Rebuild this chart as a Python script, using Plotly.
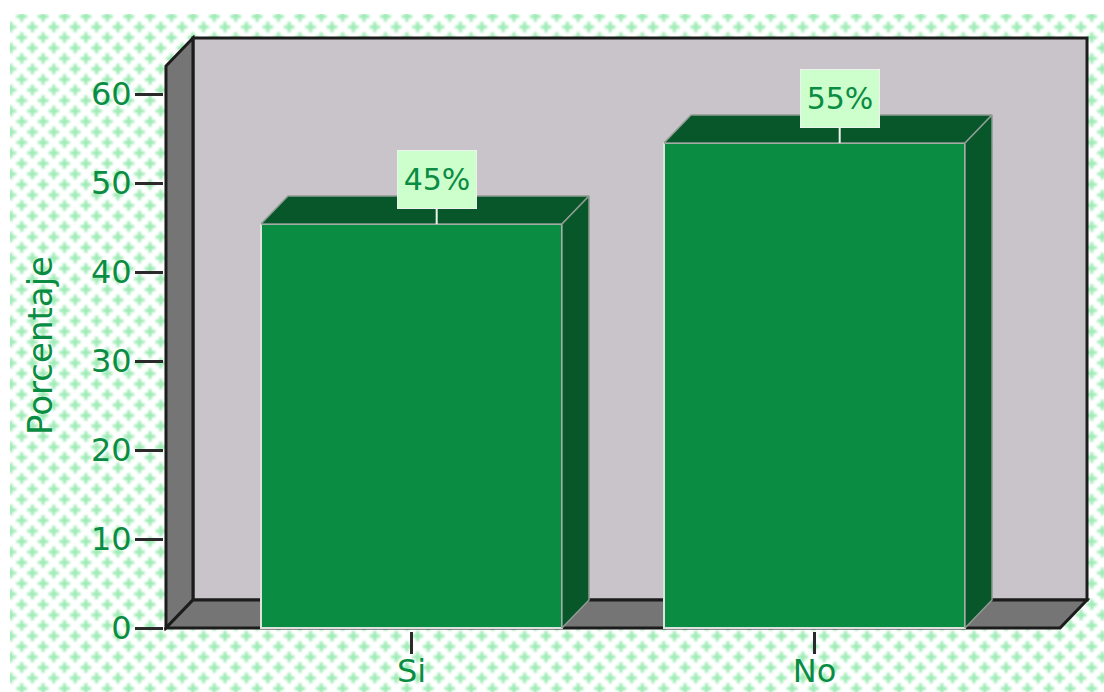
import base64
import plotly.graph_objects as go

# ---- data ----
categories = ["Si", "No"]
percent_values = [45.4, 54.5]
value_labels = ["45%", "55%"]
y_ticks = [0, 10, 20, 30, 40, 50, 60]
y_title = "Porcentaje"

# ---- style ----
GREEN = "#0a8c42"
DARK = "#08572a"
WALL = "#c9c3ca"
SIDE = "#757575"
LINE = "#1c1c1c"
LABEL_BG = "#ccffcc"
FONT = "DejaVu Sans"

W, H = 1104, 692
L, R, T, B = 164, 1090, 35, 631          # plot area in page pixels
X_RANGE = (-0.6141, 1.6836)
Y_RANGE = (-0.337, 66.63)
# the frame of the 3-D box, in axis units
FRAME_L, FRAME_R = -0.6092, 1.6762
FRAME_TOP = 66.29
DX = 0.067
DY = 3.146
BAR_W = 0.747
LABEL_SHIFT = 0.0625

x0, x1 = FRAME_L, FRAME_R
y1 = FRAME_TOP


def poly(pts):
    return "M " + " L ".join(f"{a} {b}" for a, b in pts) + " Z"


def cross(cx, cy, arm=10.5, th=3.2):
    return (f'<rect x="{cx-arm/2}" y="{cy-th/2}" width="{arm}" height="{th}"/>'
            f'<rect x="{cx-th/2}" y="{cy-arm/2}" width="{th}" height="{arm}"/>')


TW, TH = 21.4, 21.0
crosses = "".join(cross(a, b) for a, b in [
    (TW / 2, TH / 2), (0, 0), (TW, 0), (0, TH), (TW, TH)])
tile = (
    f'<pattern id="p" width="{TW}" height="{TH}" patternUnits="userSpaceOnUse" x="1" y="-8">'
    f'<rect width="{TW}" height="{TH}" fill="#ffffff"/>'
    f'<g fill="#9debb5" filter="url(#b)">{crosses}</g></pattern>'
)
svg = (
    f'<svg xmlns="http://www.w3.org/2000/svg" width="{W-10}" height="{H-14}">'
    '<defs><filter id="b" x="-30%" y="-30%" width="160%" height="160%">'
    '<feGaussianBlur stdDeviation="0.85"/></filter>' + tile + '</defs>'
    f'<rect width="{W-10}" height="{H-14}" fill="url(#p)"/></svg>'
)
bg_src = "data:image/svg+xml;base64," + base64.b64encode(svg.encode()).decode()

fig = go.Figure()

fig.add_trace(go.Bar(
    x=list(range(len(categories))), y=percent_values, width=BAR_W,
    marker=dict(color=GREEN, line=dict(color="#dfe3df", width=2)),
    showlegend=False, hoverinfo="skip",
))

for i, v in enumerate(percent_values):
    a, b = i - BAR_W / 2, i + BAR_W / 2
    fig.add_trace(go.Scatter(
        x=[a, a + DX, b + DX, b, a], y=[v, v + DY, v + DY, v, v],
        mode="lines", fill="toself", fillcolor=DARK,
        line=dict(color="#8f9c93", width=1.5), showlegend=False, hoverinfo="skip",
    ))
    fig.add_trace(go.Scatter(
        x=[b, b + DX, b + DX, b, b], y=[v, v + DY, DY, 0, v],
        mode="lines", fill="toself", fillcolor=DARK,
        line=dict(color="#8f9c93", width=1.5), showlegend=False, hoverinfo="skip",
    ))

shapes = [
    dict(type="path", layer="below", xref="x", yref="y",
         path=poly([(x0 + DX, DY), (x1, DY), (x1, y1), (x0 + DX, y1)]),
         fillcolor=WALL, line=dict(color=LINE, width=3)),
    dict(type="path", layer="below", xref="x", yref="y",
         path=poly([(x0, 0), (x0 + DX, DY), (x0 + DX, y1), (x0, y1 - DY)]),
         fillcolor=SIDE, line=dict(color=LINE, width=3)),
    dict(type="path", layer="below", xref="x", yref="y",
         path=poly([(x0, 0), (x0 + DX, DY), (x1, DY), (x1 - DX, 0)]),
         fillcolor=SIDE, line=dict(color=LINE, width=3)),
]

annotations = [
    dict(x=i + LABEL_SHIFT, y=v, xref="x", yref="y", text=lab, showarrow=True,
         arrowhead=0, arrowcolor="#eef2ee", arrowwidth=2, ax=0, ay=-44,
         width=76, height=55, bgcolor=LABEL_BG, bordercolor="#eef2ee", borderwidth=1,
         font=dict(family=FONT, size=30, color=GREEN), valign="middle", align="center")
    for i, (v, lab) in enumerate(zip(percent_values, value_labels))
]
annotations.append(dict(
    x=(40 - L) / (R - L), y=(B - 345) / (B - T), xref="paper", yref="paper",
    text=y_title, textangle=-90, showarrow=False, xanchor="center", yanchor="middle",
    font=dict(family=FONT, size=34, color=GREEN)))

fig.update_layout(
    width=W, height=H, autosize=False,
    margin=dict(l=L, r=W - R, t=T, b=H - B, pad=0),
    paper_bgcolor="white", plot_bgcolor="rgba(0,0,0,0)",
    showlegend=False, bargap=0,
    shapes=shapes, annotations=annotations,
    images=[dict(source=bg_src, xref="paper", yref="paper",
                 x=(10 - L) / (R - L), y=(B - 14) / (B - T),
                 sizex=(W - 10) / (R - L), sizey=(H - 14) / (B - T),
                 xanchor="left", yanchor="top", sizing="stretch", layer="below")],
    xaxis=dict(range=list(X_RANGE), tickmode="array", tickvals=list(range(len(categories))),
               ticktext=categories, ticks="outside", ticklen=22, tickwidth=3, tickcolor="#2a2a2a",
               showgrid=False, zeroline=False, showline=False, automargin=False,
               ticklabelstandoff=-10,
               tickfont=dict(family=FONT, size=32, color=GREEN)),
    yaxis=dict(range=list(Y_RANGE), tickmode="array", tickvals=y_ticks,
               ticks="outside", ticklen=28, tickwidth=3, tickcolor="#2a2a2a",
               showgrid=False, zeroline=False, showline=False, automargin=False,
               ticklabelstandoff=-3,
               tickfont=dict(family=FONT, size=32, color=GREEN)),
)

fig.write_html("out.html", post_script="document.body.style.margin='0';",
               config=dict(displayModeBar=False))
